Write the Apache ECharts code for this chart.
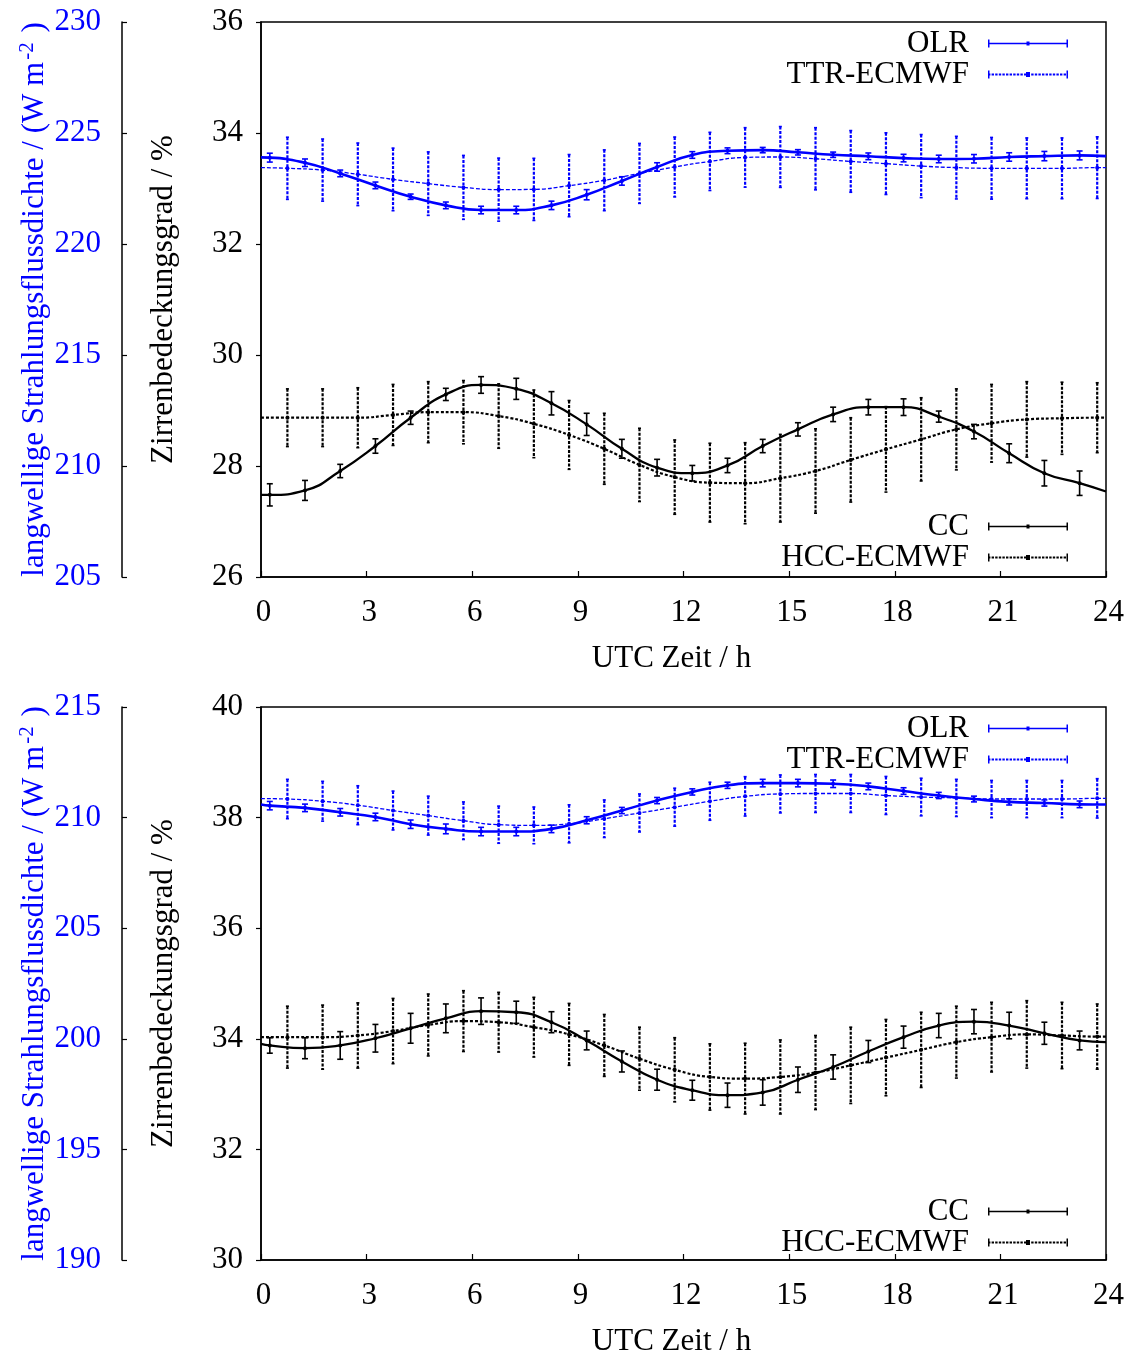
<!DOCTYPE html>
<html><head><meta charset="utf-8">
<script src="https://cdn.jsdelivr.net/npm/echarts@6/dist/echarts.min.js"></script>
<style>html,body{margin:0;padding:0;background:#fff}#c{width:1132px;height:1358px}</style>
</head><body><div id="c"></div>
<script>
// ---------- data ----------
const obsHours = [0.25,1.25,2.25,3.25,4.25,5.25,6.25,7.25,8.25,9.25,10.25,11.25,12.25,13.25,14.25,15.25,16.25,17.25,18.25,19.25,20.25,21.25,22.25,23.25];
const ecmwfHours = [0.75,1.75,2.75,3.75,4.75,5.75,6.75,7.75,8.75,9.75,10.75,11.75,12.75,13.75,14.75,15.75,16.75,17.75,18.75,19.75,20.75,21.75,22.75,23.75];
const xTicks = [0,3,6,9,12,15,18,21,24];

// top panel
const olrTop = [223.89,223.66,223.18,222.64,222.13,221.74,221.53,221.53,221.74,222.22,222.84,223.47,224.01,224.20,224.23,224.13,224.02,223.95,223.87,223.83,223.84,223.92,223.96,223.99];
const olrErrTop = [0.20,0.17,0.15,0.15,0.12,0.15,0.17,0.17,0.19,0.23,0.19,0.19,0.15,0.13,0.12,0.12,0.12,0.15,0.17,0.17,0.19,0.19,0.21,0.20];
const olrEdgeTop = [223.90,223.96];
const ttrTop = [223.41,223.33,223.14,222.91,222.72,222.55,222.45,222.46,222.63,222.87,223.18,223.47,223.72,223.90,223.92,223.84,223.72,223.62,223.51,223.44,223.41,223.41,223.41,223.44];
const ttrErrTop = [1.40,1.40,1.41,1.41,1.43,1.44,1.42,1.40,1.40,1.37,1.35,1.35,1.31,1.34,1.37,1.40,1.39,1.39,1.42,1.41,1.39,1.37,1.37,1.39];
const ttrEdgeTop = [223.44,223.44];
const ccTop = [27.48,27.56,27.91,28.36,28.87,29.29,29.46,29.39,29.13,28.75,28.31,27.97,27.87,28.01,28.36,28.66,28.93,29.06,29.06,28.89,28.62,28.23,27.87,27.69];
const ccErrTop = [0.20,0.18,0.12,0.13,0.12,0.11,0.15,0.19,0.21,0.20,0.17,0.15,0.14,0.13,0.12,0.12,0.13,0.14,0.15,0.10,0.13,0.17,0.23,0.22];
const ccEdgeTop = [27.48,27.54];
const hccTop = [28.87,28.87,28.87,28.92,28.97,28.97,28.90,28.76,28.56,28.31,28.02,27.80,27.70,27.69,27.78,27.91,28.11,28.30,28.48,28.66,28.77,28.84,28.86,28.87];
const hccErrTop = [0.52,0.52,0.54,0.55,0.55,0.57,0.58,0.61,0.62,0.64,0.66,0.67,0.71,0.73,0.79,0.76,0.76,0.77,0.75,0.73,0.70,0.68,0.65,0.63];
const hccEdgeTop = [28.87,28.87];

// bottom panel
const olrBot = [210.54,210.44,210.24,210.03,209.70,209.49,209.37,209.37,209.49,209.88,210.32,210.77,211.16,211.46,211.56,211.56,211.53,211.41,211.20,211.00,210.84,210.71,210.66,210.60];
const olrErrBot = [0.19,0.17,0.17,0.17,0.19,0.22,0.19,0.19,0.17,0.16,0.14,0.14,0.14,0.14,0.17,0.17,0.17,0.15,0.15,0.14,0.13,0.14,0.14,0.15];
const olrEdgeBot = [210.59,210.59];
const ttrBot = [210.84,210.74,210.56,210.32,210.09,209.86,209.68,209.65,209.72,209.95,210.21,210.47,210.74,210.96,211.07,211.09,211.09,211.00,210.93,210.89,210.84,210.84,210.84,210.87];
const ttrErrBot = [0.89,0.90,0.88,0.88,0.88,0.85,0.84,0.83,0.86,0.85,0.86,0.86,0.86,0.89,0.86,0.86,0.86,0.86,0.85,0.84,0.84,0.84,0.84,0.89];
const ttrEdgeBot = [210.86,210.87];
const ccBot = [33.88,33.83,33.88,34.01,34.19,34.37,34.50,34.48,34.30,33.97,33.59,33.26,33.07,32.98,33.03,33.26,33.49,33.77,34.03,34.24,34.31,34.24,34.10,33.97];
const ccErrBot = [0.14,0.19,0.25,0.25,0.27,0.26,0.24,0.20,0.19,0.17,0.19,0.19,0.18,0.22,0.23,0.23,0.22,0.20,0.20,0.22,0.22,0.24,0.20,0.17];
const ccEdgeBot = [33.91,33.94];
const hccBot = [34.03,34.03,34.06,34.14,34.25,34.32,34.30,34.21,34.08,33.88,33.64,33.44,33.31,33.28,33.31,33.39,33.52,33.66,33.80,33.94,34.03,34.08,34.06,34.04];
const hccErrBot = [0.56,0.58,0.59,0.59,0.56,0.55,0.54,0.54,0.56,0.56,0.57,0.58,0.60,0.64,0.67,0.67,0.69,0.69,0.68,0.65,0.63,0.61,0.60,0.59];
const hccEdgeBot = [34.03,34.04];

// axis ranges / labels
const ccRangeTop = [26, 36, 2];
const wRangeTop = [205, 230, 5];
const ccRangeBot = [30, 40, 2];
const wRangeBot = [190, 215, 5];
const xName = 'UTC Zeit / h';
const ccName = 'Zirrenbedeckungsgrad / %';

// ---------- chart ----------
const FONT = 'Liberation Serif';
const FS = 31;
const BLUE = '#0000ff';
const BLACK = '#000000';

function curve(h, v, edge) { return [[0, edge[0]]].concat(h.map((x, i) => [x, v[i]]), [[24, edge[1]]]); }
function bars(h, v, e) { return h.map((x, i) => [x, v[i], e[i]]); }
function errRender(color, dashed, lw, cap) {
  return function (params, api) {
    const x = api.value(0), y = api.value(1), e = api.value(2);
    const t = api.coord([x, y + e]), b = api.coord([x, y - e]), c = api.coord([x, y]);
    const st = { stroke: color, lineWidth: lw, lineDash: dashed ? [3, 1.5] : null, fill: null };
    const cs = { stroke: color, lineWidth: 1.6, fill: null };
    return { type: 'group', children: [
      { type: 'line', shape: { x1: t[0], y1: t[1], x2: b[0], y2: b[1] }, style: st },
      { type: 'line', shape: { x1: t[0] - cap, y1: t[1], x2: t[0] + cap, y2: t[1] }, style: cs },
      { type: 'line', shape: { x1: b[0] - cap, y1: b[1], x2: b[0] + cap, y2: b[1] }, style: cs },
      { type: 'circle', shape: { cx: c[0], cy: c[1], r: 2 }, style: { fill: color } }
    ] };
  };
}

const solidIcon = 'path://M0,3.2h80v1.6h-80z M0,0h1.5v8h-1.5z M78.5,0h1.5v8h-1.5z M38.5,2h3v4h-3z';
let dashIcon = 'path://M0,0h1.5v8h-1.5z M78.5,0h1.5v8h-1.5z M38,1.5h4v5h-4z';
for (let x = 0; x < 79; x += 3.6) dashIcon += ' M' + x.toFixed(1) + ',3.1h2.4v1.8h-2.4z';

const textStyle = { fontFamily: FONT, fontSize: FS, color: BLACK };

function grid(top) { return { left: 261, right: 26, top: top, height: 555, show: true, borderColor: BLACK, borderWidth: 1.5, backgroundColor: 'transparent' }; }
function xAxis(gi) {
  return { type: 'value', gridIndex: gi, min: 0, max: 24, interval: 3,
    name: xName, nameLocation: 'middle', nameGap: 66,
    nameTextStyle: Object.assign({}, textStyle, { padding: [0, 24, 0, 0] }),
    axisLine: { show: true, lineStyle: { color: BLACK, width: 1.5 } },
    axisTick: { show: true, inside: true, length: 6, lineStyle: { color: BLACK, width: 1.2 } },
    axisLabel: Object.assign({}, textStyle, { margin: 20, padding: [0, 0, 0, 5] }),
    splitLine: { show: false } };
}
function ccAxis(gi, r) {
  return { type: 'value', gridIndex: gi, position: 'left', min: r[0], max: r[1], interval: r[2],
    name: ccName, nameLocation: 'middle', nameGap: 82, nameRotate: 90, nameMoveOverlap: false, nameTextStyle: textStyle,
    axisLine: { show: true, lineStyle: { color: BLACK, width: 1.5 } },
    axisTick: { show: true, inside: false, length: 5, lineStyle: { color: BLACK, width: 1.2 } },
    axisLabel: Object.assign({}, textStyle, { margin: 18 }),
    splitLine: { show: false } };
}
function wAxis(gi, r) {
  return { type: 'value', gridIndex: gi, position: 'left', offset: 139, min: r[0], max: r[1], interval: r[2],
    name: '{a|langwellige Strahlungsflussdichte / (W m}{s|-2}{a| )}', nameLocation: 'middle', nameGap: 69, nameRotate: 90, nameMoveOverlap: false,
    nameTextStyle: { fontFamily: FONT, fontSize: FS, color: BLUE,
      rich: { a: { fontFamily: FONT, fontSize: FS, color: BLUE, lineHeight: 36 },
              s: { fontFamily: FONT, fontSize: 21, color: BLUE, lineHeight: 20, padding: [0, 2, 16, 2] } } },
    axisLine: { show: true, lineStyle: { color: BLACK, width: 1.5 } },
    axisTick: { show: true, inside: true, length: 5, lineStyle: { color: BLACK, width: 1.2 } },
    axisLabel: Object.assign({}, textStyle, { color: BLUE, margin: 21 }),
    splitLine: { show: false } };
}
function panelSeries(gi, ccIdx, wIdx, d) {
  return [
    { name: 'OLR', type: 'line', xAxisIndex: gi, yAxisIndex: wIdx, data: curve(obsHours, d.olr, d.olrEdge), smooth: true, showSymbol: false, symbol: 'none', color: BLUE, lineStyle: { color: BLUE, width: 2.6 }, z: 4 },
    { name: 'TTR-ECMWF', type: 'line', xAxisIndex: gi, yAxisIndex: wIdx, data: curve(ecmwfHours, d.ttr, d.ttrEdge), smooth: true, showSymbol: false, symbol: 'none', color: BLUE, lineStyle: { color: BLUE, width: 1.3, type: [4, 2] }, z: 3 },
    { name: 'CC', type: 'line', xAxisIndex: gi, yAxisIndex: ccIdx, data: curve(obsHours, d.cc, d.ccEdge), smooth: true, showSymbol: false, symbol: 'none', color: BLACK, lineStyle: { color: BLACK, width: 2.3 }, z: 4 },
    { name: 'HCC-ECMWF', type: 'line', xAxisIndex: gi, yAxisIndex: ccIdx, data: curve(ecmwfHours, d.hcc, d.hccEdge), smooth: true, showSymbol: false, symbol: 'none', color: BLACK, lineStyle: { color: BLACK, width: 2.2, type: [3, 2] }, z: 3 },
    { name: 'OLR', type: 'custom', xAxisIndex: gi, yAxisIndex: wIdx, data: bars(obsHours, d.olr, d.olrErr), renderItem: errRender(BLUE, false, 1.6, 3), color: BLUE, z: 5 },
    { name: 'TTR-ECMWF', type: 'custom', xAxisIndex: gi, yAxisIndex: wIdx, data: bars(ecmwfHours, d.ttr, d.ttrErr), renderItem: errRender(BLUE, true, 2.2, 1.5), color: BLUE, z: 5 },
    { name: 'CC', type: 'custom', xAxisIndex: gi, yAxisIndex: ccIdx, data: bars(obsHours, d.cc, d.ccErr), renderItem: errRender(BLACK, false, 1.6, 3), color: BLACK, z: 5 },
    { name: 'HCC-ECMWF', type: 'custom', xAxisIndex: gi, yAxisIndex: ccIdx, data: bars(ecmwfHours, d.hcc, d.hccErr), renderItem: errRender(BLACK, true, 2.2, 1.5), color: BLACK, z: 5 }
  ];
}
function legend(top, items) {
  return { orient: 'vertical', right: 64, top: top, align: 'right', itemWidth: 80, itemHeight: 8, itemGap: 0, padding: 0,
    symbolKeepAspect: false, selectedMode: false,
    textStyle: Object.assign({}, textStyle, { lineHeight: 31, padding: [0, 14, 0, 0] }),
    data: items };
}
const legOLR = [{ name: 'OLR', icon: solidIcon, itemStyle: { color: BLUE, borderWidth: 0 } }, { name: 'TTR-ECMWF', icon: dashIcon, itemStyle: { color: BLUE, borderWidth: 0 } }];
const legCC = [{ name: 'CC', icon: solidIcon, itemStyle: { color: BLACK, borderWidth: 0 } }, { name: 'HCC-ECMWF', icon: dashIcon, itemStyle: { color: BLACK, borderWidth: 0 } }];

const option = {
  animation: false,
  backgroundColor: '#ffffff',
  grid: [grid(22), grid(707)],
  xAxis: [xAxis(0), xAxis(1)],
  yAxis: [ccAxis(0, ccRangeTop), wAxis(0, wRangeTop), ccAxis(1, ccRangeBot), wAxis(1, wRangeBot)],
  legend: [legend(28, legOLR), legend(511, legCC), legend(713, legOLR), legend(1196, legCC)],
  series: [].concat(
    panelSeries(0, 0, 1, { olr: olrTop, olrErr: olrErrTop, olrEdge: olrEdgeTop, ttr: ttrTop, ttrErr: ttrErrTop, ttrEdge: ttrEdgeTop, cc: ccTop, ccErr: ccErrTop, ccEdge: ccEdgeTop, hcc: hccTop, hccErr: hccErrTop, hccEdge: hccEdgeTop }),
    panelSeries(1, 2, 3, { olr: olrBot, olrErr: olrErrBot, olrEdge: olrEdgeBot, ttr: ttrBot, ttrErr: ttrErrBot, ttrEdge: ttrEdgeBot, cc: ccBot, ccErr: ccErrBot, ccEdge: ccEdgeBot, hcc: hccBot, hccErr: hccErrBot, hccEdge: hccEdgeBot })
  )
};
const chart = echarts.init(document.getElementById('c'), null, { renderer: 'canvas' });
chart.setOption(option);
</script>
</body></html>
